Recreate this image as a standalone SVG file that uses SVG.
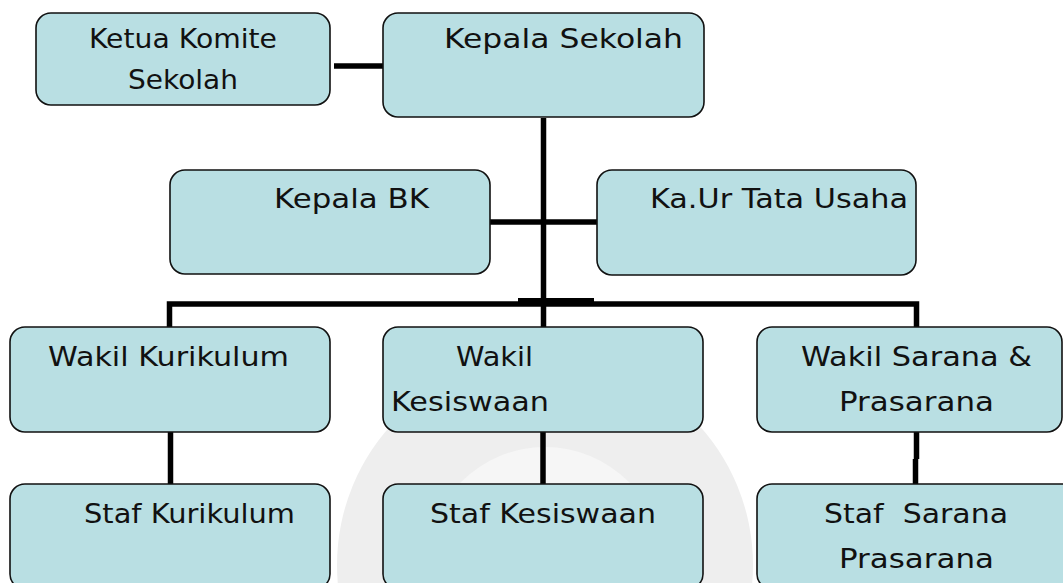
<svg xmlns="http://www.w3.org/2000/svg" width="1063" height="583" viewBox="0 0 1063 583">
  <style>
    .box { fill: #b9dfe3; stroke: #111; stroke-width: 1.6; }
    .lbl { font-family: "DejaVu Sans", "Liberation Sans", sans-serif; font-size: 27px; fill: #111; white-space: pre; }
    .con { stroke: #000; stroke-width: 5.5; fill: none; stroke-linejoin: miter; stroke-linecap: butt; }
  </style>
  <rect x="0" y="0" width="1063" height="583" fill="#ffffff"/>
  <g id="watermark">
    <circle cx="545" cy="565" r="208" fill="#eeeeee"/>
    <circle cx="545" cy="565" r="118" fill="#f6f6f6"/>
  </g>
  <g id="connectors">
    <line class="con" x1="334" y1="66" x2="384" y2="66"/>
    <line class="con" x1="543.5" y1="118" x2="543.5" y2="328"/>
    <line class="con" x1="489" y1="222" x2="598" y2="222"/>
    <path class="con" d="M169.5 328 V304 H916.5 V328"/>
    <rect x="518" y="298" width="76" height="5" fill="#000"/>
    <line class="con" x1="170.5" y1="431" x2="170.5" y2="485"/>
    <line class="con" x1="543" y1="431" x2="543" y2="485"/>
    <line class="con" x1="916.5" y1="431" x2="916.5" y2="459"/>
    <line class="con" x1="915.5" y1="459" x2="915.5" y2="485"/>
  </g>
  <g id="ketua-komite">
    <rect class="box" x="36" y="13" width="294" height="92" rx="15"/>
    <text class="lbl" x="89" y="48" textLength="188" lengthAdjust="spacingAndGlyphs">Ketua Komite</text>
    <text class="lbl" x="128" y="89" textLength="110" lengthAdjust="spacingAndGlyphs">Sekolah</text>
  </g>
  <g id="kepala-sekolah">
    <rect class="box" x="383" y="13" width="321" height="104" rx="15"/>
    <text class="lbl" x="444" y="48" textLength="239" lengthAdjust="spacingAndGlyphs">Kepala Sekolah</text>
  </g>
  <g id="kepala-bk">
    <rect class="box" x="170" y="170" width="320" height="104" rx="15"/>
    <text class="lbl" x="274" y="208" textLength="155" lengthAdjust="spacingAndGlyphs">Kepala BK</text>
  </g>
  <g id="kaur-tata-usaha">
    <rect class="box" x="597" y="170" width="319" height="105" rx="15"/>
    <text class="lbl" x="650" y="208" textLength="258" lengthAdjust="spacingAndGlyphs">Ka.Ur Tata Usaha</text>
  </g>
  <g id="wakil-kurikulum">
    <rect class="box" x="10" y="327" width="320" height="105" rx="15"/>
    <text class="lbl" x="48" y="366" textLength="241" lengthAdjust="spacingAndGlyphs">Wakil Kurikulum</text>
  </g>
  <g id="wakil-kesiswaan">
    <rect class="box" x="383" y="327" width="320" height="105" rx="15"/>
    <text class="lbl" x="456" y="366" textLength="77" lengthAdjust="spacingAndGlyphs">Wakil</text>
    <text class="lbl" x="391" y="411" textLength="158" lengthAdjust="spacingAndGlyphs">Kesiswaan</text>
  </g>
  <g id="wakil-sarana">
    <rect class="box" x="757" y="327" width="305" height="105" rx="15"/>
    <text class="lbl" x="801" y="366" textLength="231" lengthAdjust="spacingAndGlyphs">Wakil Sarana &amp;</text>
    <text class="lbl" x="839" y="411" textLength="155" lengthAdjust="spacingAndGlyphs">Prasarana</text>
  </g>
  <g id="staf-kurikulum">
    <rect class="box" x="10" y="484" width="320" height="105" rx="15"/>
    <text class="lbl" x="84" y="523" textLength="211" lengthAdjust="spacingAndGlyphs">Staf Kurikulum</text>
  </g>
  <g id="staf-kesiswaan">
    <rect class="box" x="383" y="484" width="320" height="105" rx="15"/>
    <text class="lbl" x="430" y="523" textLength="226" lengthAdjust="spacingAndGlyphs">Staf Kesiswaan</text>
  </g>
  <g id="staf-sarana">
    <rect class="box" x="757" y="484" width="320" height="105" rx="15"/>
    <text class="lbl" x="824" y="523" textLength="184" lengthAdjust="spacingAndGlyphs">Staf  Sarana</text>
    <text class="lbl" x="839" y="568" textLength="155" lengthAdjust="spacingAndGlyphs">Prasarana</text>
  </g>
</svg>
